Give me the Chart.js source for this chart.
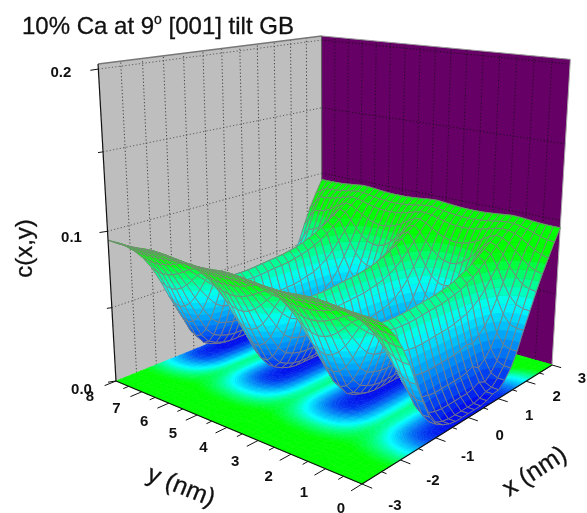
<!DOCTYPE html>
<html>
<head>
<meta charset="utf-8">
<style>
html, body { margin: 0; padding: 0; background: #fff; }
canvas { display: block; }
</style>
<script src="https://cdn.jsdelivr.net/npm/chart.js@4"></script>
</head>
<body>
<canvas id="chart" width="587" height="513" style="width:587px;height:513px"></canvas>
<script>
// axis values
const xTicks = [-3, -2, -1, 0, 1, 2, 3];
const yTicks = [0, 1, 2, 3, 4, 5, 6, 7, 8];
const cTicks = [0, 0.05, 0.1, 0.15, 0.2];
const cLabels = ['0.0', '', '0.1', '', '0.2'];

// surface sample positions, nm
const xGrid = [-3, -2.8, -2.6, -2.4, -2.2, -2, -1.8, -1.6, -1.4, -1.2, -1, -0.8, -0.6, -0.4, -0.2, 0, 0.2, 0.4, 0.6, 0.8, 1, 1.2, 1.4, 1.6, 1.8, 2, 2.2, 2.4, 2.6, 2.8, 3];
const yGrid = [0, 0.2, 0.4, 0.6, 0.8, 1, 1.2, 1.4, 1.6, 1.8, 2, 2.2, 2.4, 2.6, 2.8, 3, 3.2, 3.4, 3.6, 3.8, 4, 4.2, 4.4, 4.6, 4.8, 5, 5.2, 5.4, 5.6, 5.8, 6, 6.2, 6.4, 6.6, 6.8, 7, 7.2, 7.4, 7.6, 7.8, 8];

// c(x,y) x 10000, one row per xGrid value, one column per yGrid value
const cRows = [
[940,940,942,945,949,954,958,960,956,951,947,943,941,940,941,943,947,951,956,960,958,954,949,945,942,940,940,942,945,949,954,958,960,956,951,947,943,941,940,941,943],
[910,910,911,913,917,920,924,925,922,918,915,912,911,910,911,912,915,918,922,925,924,920,917,913,911,910,910,911,913,917,920,924,925,922,918,915,912,911,910,911,912],
[870,870,871,873,877,880,884,885,882,878,875,872,871,870,871,872,875,878,882,885,884,880,877,873,871,870,870,871,873,877,880,884,885,882,878,875,872,871,870,871,872],
[820,820,822,825,829,834,838,840,836,831,827,823,821,820,821,823,827,831,836,840,838,834,829,825,822,820,820,822,825,829,834,838,840,836,831,827,823,821,820,821,823],
[751,751,755,764,776,791,805,809,799,784,770,759,752,750,752,759,770,784,799,809,805,791,776,764,755,751,751,755,764,776,791,805,809,799,784,770,759,752,750,752,759],
[661,661,669,683,704,729,752,759,741,716,693,675,664,660,664,675,693,716,741,759,752,729,704,683,669,661,661,669,683,704,729,752,759,741,716,693,675,664,660,664,675],
[542,542,556,582,619,664,706,718,686,641,599,567,547,540,547,567,599,641,686,718,706,664,619,582,556,542,542,556,582,619,664,706,718,686,641,599,567,547,540,547,567],
[403,403,426,467,528,600,667,687,635,562,496,444,412,400,412,444,496,562,635,687,667,600,528,467,426,403,403,426,467,528,600,667,687,635,562,496,444,412,400,412,444],
[274,274,304,360,442,539,629,656,586,488,399,329,286,270,286,329,399,488,586,656,629,539,442,360,304,274,274,304,360,442,539,629,656,586,488,399,329,286,270,286,329],
[155,155,193,264,366,488,601,635,547,424,312,224,170,150,170,224,312,424,547,635,601,488,366,264,193,155,155,193,264,366,488,601,635,547,424,312,224,170,150,170,224],
[86,86,129,209,324,463,591,629,530,391,263,163,102,80,102,163,263,391,530,629,591,463,324,209,129,86,86,129,209,324,463,591,629,530,391,263,163,102,80,102,163],
[56,56,101,186,307,454,588,629,524,378,243,138,73,50,73,138,243,378,524,629,588,454,307,186,101,56,56,101,186,307,454,588,629,524,378,243,138,73,50,73,138],
[36,36,83,170,296,447,587,629,520,369,230,121,54,30,54,121,230,369,520,629,587,447,296,170,83,36,36,83,170,296,447,587,629,520,369,230,121,54,30,54,121],
[26,26,75,164,293,448,590,634,522,367,225,113,45,20,45,113,225,367,522,634,590,448,293,164,75,26,26,75,164,293,448,590,634,522,367,225,113,45,20,45,113],
[26,26,75,165,295,451,595,639,526,370,226,114,45,20,45,114,226,370,526,639,595,451,295,165,75,26,26,75,165,295,451,595,639,526,370,226,114,45,20,45,114],
[26,26,75,166,297,455,600,644,530,373,228,115,45,20,45,115,228,373,530,644,600,455,297,166,75,26,26,75,166,297,455,600,644,530,373,228,115,45,20,45,115],
[26,26,76,167,299,458,604,649,534,376,230,115,45,20,45,115,230,376,534,649,604,458,299,167,76,26,26,76,167,299,458,604,649,534,376,230,115,45,20,45,115],
[26,26,76,168,302,462,609,654,538,378,231,116,46,20,46,116,231,378,538,654,609,462,302,168,76,26,26,76,168,302,462,609,654,538,378,231,116,46,20,46,116],
[36,36,86,178,312,472,619,664,548,388,241,126,56,30,56,126,241,388,548,664,619,472,312,178,86,36,36,86,178,312,472,619,664,548,388,241,126,56,30,56,126],
[56,56,105,196,327,485,630,674,560,403,258,145,75,50,75,145,258,403,560,674,630,485,327,196,105,56,56,105,196,327,485,630,674,560,403,258,145,75,50,75,145],
[60,61,82,163,311,498,644,689,574,416,270,155,85,60,85,155,270,416,574,689,644,498,339,207,116,66,66,116,207,339,498,644,689,574,416,270,155,85,60,60,60],
[100,101,122,200,344,524,666,709,598,444,303,192,125,100,125,192,303,444,598,709,666,524,371,243,154,106,106,154,243,371,524,666,709,598,444,303,192,125,100,95,90],
[160,161,180,253,388,557,689,729,626,482,350,246,183,160,183,246,350,482,626,729,689,557,413,293,211,166,166,211,293,413,557,689,729,626,482,350,246,183,160,150,140],
[250,251,268,336,452,602,719,755,663,536,418,327,270,250,270,327,418,536,663,755,719,602,474,368,295,255,255,295,368,474,602,719,755,663,536,418,327,270,250,235,220],
[370,371,385,441,536,660,756,786,710,605,509,433,387,370,387,433,509,605,710,786,756,660,555,467,407,374,374,407,467,555,660,756,786,710,605,509,433,387,370,355,340],
[480,483,499,546,625,721,794,817,759,679,606,548,513,500,513,548,606,679,759,817,794,721,641,574,528,503,503,528,574,641,721,794,817,759,679,606,548,513,500,475,450],
[590,598,617,660,718,785,833,848,810,758,709,672,648,640,648,672,709,758,810,848,833,785,732,689,658,642,642,658,689,732,785,833,848,810,758,709,672,648,640,575,510],
[690,702,726,764,805,846,871,879,859,832,806,787,774,770,774,787,806,832,859,879,871,846,818,796,780,771,771,780,796,818,846,871,879,859,832,806,787,774,770,705,640],
[780,792,814,843,872,895,906,910,901,888,877,868,862,860,862,868,877,888,901,910,906,895,882,872,864,861,861,864,872,882,895,906,910,901,888,877,868,862,860,810,760],
[870,876,887,903,918,931,938,940,934,927,920,915,911,910,911,915,920,927,934,940,938,931,923,917,913,910,910,913,917,923,931,938,940,934,927,920,915,911,910,885,860],
[950,950,952,955,959,964,968,970,966,961,957,953,951,950,951,953,957,961,966,970,968,964,959,955,952,950,950,952,955,959,964,968,970,966,961,957,953,951,950,950,950]
];

const W = 587, H = 513;
const cTop = 0.203;

// camera: where the box corners land on the page
const floorCorners = [[-3, 8, 116, 381], [-3, 0, 362, 484], [3, 0, 552, 365], [3, 8, 322, 298]];
const topCorners = [[-3, 8, 0.2, 98, 68], [3, 8, 0.2, 322, 42], [3, 0, 0.2, 570, 63]];

function solve(A, b) {
    const n = b.length;
    const M = A.map((r, i) => r.concat(b[i]));
    for (let i = 0; i < n; i++) {
        let p = i;
        for (let k = i + 1; k < n; k++) if (Math.abs(M[k][i]) > Math.abs(M[p][i])) p = k;
        const t = M[i]; M[i] = M[p]; M[p] = t;
        for (let k = 0; k < n; k++) {
            if (k === i) continue;
            const f = M[k][i] / M[i][i];
            for (let j = i; j <= n; j++) M[k][j] -= f * M[i][j];
        }
    }
    return M.map((r, i) => r[n] / r[i]);
}

function buildCamera() {
    const A = [], b = [];
    floorCorners.forEach(([X, Y, px, py]) => {
        A.push([X, Y, 1, 0, 0, 0, -px * X, -px * Y]); b.push(px);
        A.push([0, 0, 0, X, Y, 1, -py * X, -py * Y]); b.push(py);
    });
    const h = solve(A, b);
    // z column, least squares over the three top corners
    const rows = [], rhs = [];
    topCorners.forEach(([X, Y, Z, px, py]) => {
        const w0 = h[6] * X + h[7] * Y + 1;
        rows.push([Z, 0, -px * Z]); rhs.push(px * w0 - (h[0] * X + h[1] * Y + h[2]));
        rows.push([0, Z, -py * Z]); rhs.push(py * w0 - (h[3] * X + h[4] * Y + h[5]));
    });
    const N = [0, 1, 2].map(i => [0, 1, 2].map(j => rows.reduce((s, r) => s + r[i] * r[j], 0)));
    const v = [0, 1, 2].map(i => rows.reduce((s, r, k) => s + r[i] * rhs[k], 0));
    const z = solve(N, v);
    return { h, z };
}
const cam = buildCamera();

function project(X, Y, Z) {
    const h = cam.h, z = cam.z;
    const w = h[6] * X + h[7] * Y + 1 + z[2] * Z;
    return {
        x: (h[0] * X + h[1] * Y + h[2] + z[0] * Z) / w,
        y: (h[3] * X + h[4] * Y + h[5] + z[1] * Z) / w
    };
}

// one scatter dataset for the surface, one for its floor map
const surfacePoints = [], floorPoints = [];
xGrid.forEach((x, i) => {
    yGrid.forEach((y, j) => {
        surfacePoints.push(project(x, y, cRows[i][j] / 10000));
        floorPoints.push(project(x, y, 0));
    });
});

function bandColor(c) {
    // blue at 0, cyan at 0.05, green from 0.08
    if (c < 0.05) {
        const t = Math.max(c, 0) / 0.05;
        return 'rgb(0,' + Math.round(255 * t) + ',' + Math.round(235 + 20 * t) + ')';
    }
    const t = Math.min((c - 0.05) / 0.03, 1);
    return 'rgb(0,255,' + Math.round(255 * (1 - t)) + ')';
}

function clipBand(poly, lim, keepAbove) {
    const out = [];
    for (let i = 0; i < poly.length; i++) {
        const a = poly[i], b = poly[(i + 1) % poly.length];
        const inA = keepAbove ? a.v >= lim : a.v <= lim;
        const inB = keepAbove ? b.v >= lim : b.v <= lim;
        if (inA) out.push(a);
        if (inA !== inB) {
            const t = (lim - a.v) / (b.v - a.v);
            out.push({ x: a.x + (b.x - a.x) * t, y: a.y + (b.y - a.y) * t, v: lim });
        }
    }
    return out;
}

function fillCell(ctx, poly, step) {
    const vals = poly.map(p => p.v);
    const b0 = Math.floor(Math.min(...vals) / step), b1 = Math.floor(Math.max(...vals) / step);
    for (let b = b0; b <= b1; b++) {
        let part = clipBand(poly, b * step, true);
        part = clipBand(part, (b + 1) * step, false);
        if (part.length < 3) continue;
        const col = bandColor((b + 0.5) * step);
        ctx.beginPath();
        part.forEach((p, k) => k ? ctx.lineTo(p.x, p.y) : ctx.moveTo(p.x, p.y));
        ctx.closePath();
        ctx.fillStyle = col;
        ctx.strokeStyle = col;
        ctx.lineWidth = 0.6;
        ctx.fill();
        ctx.stroke();
    }
}

const surfacePlugin = {
    id: 'surface3d',
    beforeDatasetsDraw(chart) {
        const ctx = chart.ctx;
        const sx = chart.scales.x, sy = chart.scales.y;
        const P = (X, Y, Z) => {
            const p = project(X, Y, Z);
            return { x: sx.getPixelForValue(p.x), y: sy.getPixelForValue(p.y) };
        };
        const line = (a, b, color, width, dash) => {
            ctx.beginPath();
            ctx.moveTo(a.x, a.y);
            ctx.lineTo(b.x, b.y);
            ctx.strokeStyle = color;
            ctx.lineWidth = width;
            ctx.setLineDash(dash || []);
            ctx.stroke();
            ctx.setLineDash([]);
        };
        const quad = (pts, color) => {
            ctx.beginPath();
            pts.forEach((p, k) => k ? ctx.lineTo(p.x, p.y) : ctx.moveTo(p.x, p.y));
            ctx.closePath();
            ctx.fillStyle = color;
            ctx.fill();
        };
        const x0 = xGrid[0], x1 = xGrid[xGrid.length - 1];
        const y0 = yGrid[0], y1 = yGrid[yGrid.length - 1];

        // walls
        quad([P(x0, y1, 0), P(x1, y1, 0), P(x1, y1, cTop), P(x0, y1, cTop)], '#bebebe');
        quad([P(x1, y1, 0), P(x1, y0, 0), P(x1, y0, cTop), P(x1, y1, cTop)], '#660066');

        // dotted wall grid
        const dots = [1.2, 2.2];
        for (let x = x0 + 0.5; x < x1; x += 0.5) {
            line(P(x, y1, 0), P(x, y1, cTop), '#222', 0.8, dots);
        }
        for (let y = y0 + 0.5; y < y1; y += 0.5) {
            line(P(x1, y, 0), P(x1, y, cTop), '#111', 0.8, dots);
        }
        cTicks.slice(1).forEach(c => {
            line(P(x0, y1, c), P(x1, y1, c), '#444', 0.8, dots);
            line(P(x1, y1, c), P(x1, y0, c), '#111', 0.8, dots);
        });

        // wall borders
        line(P(x0, y1, cTop), P(x1, y1, cTop), '#777', 1.5);
        line(P(x1, y1, cTop), P(x1, y0, cTop), '#999', 1);
        line(P(x1, y1, 0), P(x1, y1, cTop), '#555', 1);
        line(P(x1, y0, 0), P(x1, y0, cTop), '#aaa', 1);

        const nx = xGrid.length, ny = yGrid.length;
        const cell = (pts, i, j) => {
            const idx = [[i, j], [i + 1, j], [i + 1, j + 1], [i, j + 1]];
            return idx.map(([a, b]) => {
                const e = pts[a * ny + b];
                return { x: e.x, y: e.y, v: cRows[a][b] / 10000 };
            });
        };

        // floor map
        const floorEls = chart.getDatasetMeta(1).data;
        for (let i = 0; i < nx - 1; i++) {
            for (let j = 0; j < ny - 1; j++) {
                fillCell(ctx, cell(floorEls, i, j), 0.0025);
            }
        }

        // surface, far corner first
        const surfEls = chart.getDatasetMeta(0).data;
        for (let i = nx - 2; i >= 0; i--) {
            for (let j = ny - 2; j >= 0; j--) {
                const poly = cell(surfEls, i, j);
                fillCell(ctx, poly, 0.005);
                ctx.beginPath();
                poly.forEach((p, k) => k ? ctx.lineTo(p.x, p.y) : ctx.moveTo(p.x, p.y));
                ctx.closePath();
                ctx.strokeStyle = '#808080';
                ctx.lineWidth = 0.9;
                ctx.stroke();
            }
        }

        // axes
        line(P(x0, y1, 0), P(x0, y0, 0), '#111', 1.2);
        line(P(x0, y0, 0), P(x1, y0, 0), '#111', 1.2);
        line(P(x0, y1, 0), P(x0, y1, cTop), '#111', 1.2);

        ctx.fillStyle = '#111';
        ctx.textAlign = 'center';
        ctx.textBaseline = 'middle';
        ctx.font = 'bold 15px "Liberation Sans"';

        // y ticks run toward -x, x ticks toward -y
        for (let y = 0; y <= 8; y += 0.5) {
            const major = Number.isInteger(y);
            line(P(x0, y, 0), P(x0 - (major ? 0.27 : 0.13), y, 0), '#111', 1);
        }
        yTicks.forEach(y => {
            const p = P(x0, y, 0);
            const t = y / 8;
            ctx.fillStyle = '#111';
            ctx.fillText(String(y), p.x - 21 - 5 * t, p.y + 25 - 9 * t);
        });
        for (let x = -3; x <= 3; x += 0.5) {
            const major = Number.isInteger(x);
            line(P(x, y0, 0), P(x, y0 - (major ? 0.27 : 0.13), 0), '#111', 1);
        }
        xTicks.forEach(x => {
            const p = P(x, y0, 0);
            const t = (x + 3) / 6;
            ctx.fillStyle = '#111';
            ctx.fillText(String(x), p.x + 33 - 3 * t, p.y + 22 - 8 * t);
        });
        cTicks.forEach((c, k) => {
            const p = P(x0, y1, c);
            const len = cLabels[k] ? 8 : 5;
            line(p, { x: p.x - len, y: p.y + len * 0.15 }, '#111', 1);
            if (cLabels[k]) {
                const t = c / 0.2;
                ctx.fillStyle = '#111';
                ctx.fillText(cLabels[k], p.x - 34.5 - 3 * t, p.y + 9 - 5 * t);
            }
        });

        // titles
        ctx.fillStyle = '#111';
        ctx.strokeStyle = '#111';
        ctx.lineWidth = 0.3;
        ctx.textAlign = 'left';
        ctx.textBaseline = 'alphabetic';
        const t1 = '10% Ca at 9', t2 = 'o', t3 = ' [001] tilt GB';
        const piece = (text, tx, ty, font) => {
            ctx.font = font;
            ctx.fillText(text, tx, ty);
            ctx.strokeText(text, tx, ty);
            return ctx.measureText(text).width;
        };
        let tx = 22;
        tx += piece(t1, tx, 34, '24px "Liberation Sans"');
        tx += piece(t2, tx, 24, '14px "Liberation Sans"');
        piece(t3, tx, 34, '24px "Liberation Sans"');

        const rotated = (text, x, y, deg, font) => {
            ctx.save();
            ctx.translate(x, y);
            ctx.rotate(deg * Math.PI / 180);
            ctx.font = font;
            ctx.textAlign = 'center';
            ctx.textBaseline = 'middle';
            ctx.fillText(text, 0, 0);
            ctx.strokeText(text, 0, 0);
            ctx.restore();
        };
        rotated('c(x,y)', 25, 248.5, -90, '24px "Liberation Sans"');
        rotated('y (nm)', 181, 487, 22, '25px "Liberation Sans"');
        rotated('x (nm)', 535, 472, -33, '25px "Liberation Sans"');
    }
};

new Chart(document.getElementById('chart'), {
    type: 'scatter',
    data: {
        datasets: [
            { data: surfacePoints, pointRadius: 0, showLine: false },
            { data: floorPoints, pointRadius: 0, showLine: false }
        ]
    },
    options: {
        responsive: false,
        animation: false,
        layout: { padding: 0 },
        scales: {
            x: { type: 'linear', min: 0, max: W, display: false },
            y: { type: 'linear', min: 0, max: H, reverse: true, display: false }
        },
        plugins: { legend: { display: false }, tooltip: { enabled: false } }
    },
    plugins: [surfacePlugin]
});
</script>
</body>
</html>
